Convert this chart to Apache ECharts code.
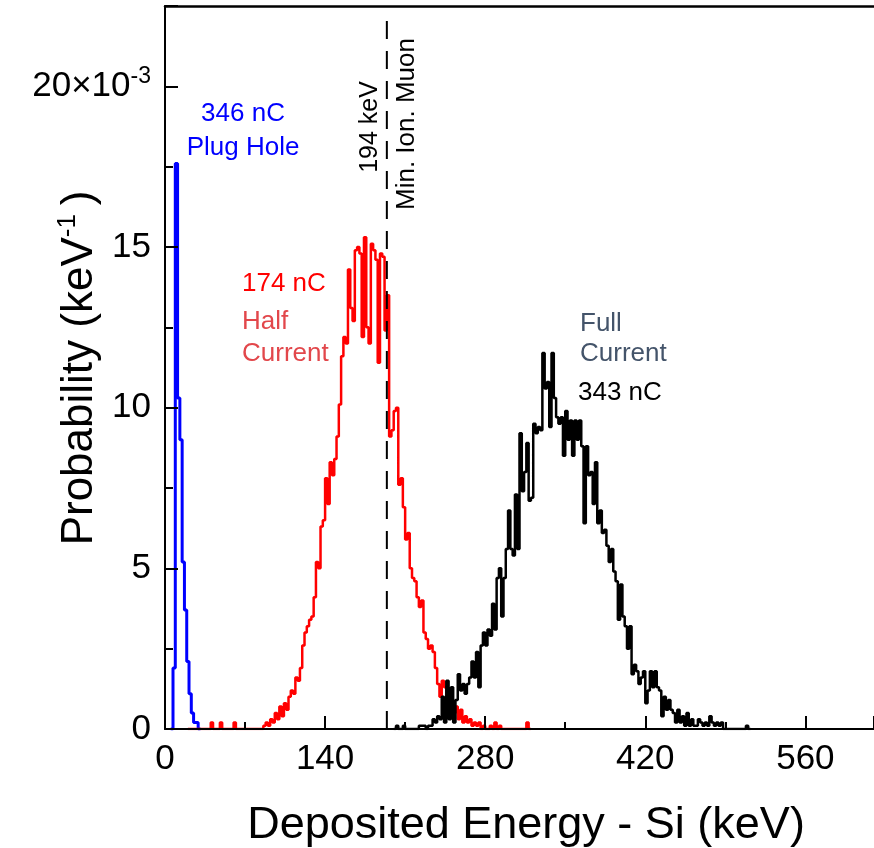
<!DOCTYPE html>
<html>
<head>
<meta charset="utf-8">
<script src="https://cdn.jsdelivr.net/npm/echarts@6/dist/echarts.min.js"></script>
<style>html,body{margin:0;padding:0;background:#fff;}#c{width:874px;height:848px;}</style>
</head>
<body>
<div id="c"></div>
<script>
// Histogram bins: 2 keV wide, values in units of 1e-3 keV^-1
var binWidth = 2;
var xTicks = [0, 140, 280, 420, 560];
var yTicks = [0, 5, 10, 15, 20];

var blueStart = 5;
var blueVals = [0, 1.9, 17.6, 10.3, 9.0, 5.2, 3.7, 2.1, 1.1, 0.5, 0.2, 0.2, 0];

var redStart = 20;
var redVals = [
  0,0,0,0,0,0,0,0,0,0,          // 20-38
  0.2,0,0,0,0.2,0,0,0,0,0,      // 40-58
  0.2,0,0,0,0,0,0,0,0,0,        // 60-78
  0,0,0,0.1,0.2,0.1,0.3,0.2,0.5,0.3, // 80-98
  0.7,0.4,0.8,0.6,1.0,1.2,1.1,1.6,1.5,1.9, // 100-118
  2.6,3.0,3.2,3.4,3.5,4.1,5.2,5.0,6.3,6.5, // 120-138
  7.8,7.0,8.3,7.9,8.4,9.1,10.1,11.6,12.2,12.0, // 140-158
  14.3,13.1,12.7,14.9,15.0,14.8,12.2,15.3,12.5,12.0, // 160-178
  15.1,14.9,14.6,11.4,14.8,14.7,12.4,13.5,9.1,9.3, // 180-198
  9.9,10.0,7.6,7.8,6.9,5.9,6.1,5.0,4.7,4.6, // 200-218
  4.1,3.8,4.0,3.0,2.8,2.5,2.6,2.4,1.9,1.4, // 220-238
  1.0,1.5,1.3,0.8,0.6,0.8,0.5,0.7,0.3,0.6, // 240-258
  0.2,0.4,0.2,0.3,0.1,0.2,0.1,0.2,0,0.1,   // 260-278
  0,0,0.1,0,0.2,0,0.1,0,0,0,               // 280-298
  0,0,0,0,0,0,0,0,0.2,0                    // 300-318
];

var blackStart = 200;
var blackVals = [
  0,0.1,0,0,0.1,0,0,0,0,0,                 // 200-218
  0,0.1,0.1,0.1,0,0.1,0.1,0.3,0.2,0.4,     // 220-238
  0.3,1.0,0.2,1.5,0.3,1.3,0.2,0.9,1.7,1.2, // 240-258
  1.4,1.1,1.4,1.6,2.1,1.6,2.4,1.3,2.6,3.0, // 260-278
  2.6,3.1,2.9,3.9,3.1,4.7,5.0,3.5,4.7,5.6, // 280-298
  6.8,5.6,5.4,7.3,5.6,9.2,7.4,8.0,8.9,7.1, // 300-318
  7.2,9.5,9.2,9.4,9.3,11.7,10.6,10.8,9.4,11.7, // 320-338
  10.3,9.7,9.5,9.7,8.5,9.9,9.0,9.6,8.5,9.6, // 340-358
  9.0,9.6,8.8,6.4,8.8,7.9,8.0,7.0,8.3,6.4, // 360-378
  6.8,6.1,6.2,5.7,5.2,5.6,4.9,4.6,3.4,4.5, // 380-398
  3.5,3.2,2.5,3.2,1.7,2.0,1.8,1.4,1.6,1.8, // 400-418
  0.8,1.2,1.8,1.3,1.8,1.3,1.2,0.4,1.0,0.6, // 420-438
  0.9,0.6,0.5,0.2,0.6,0.2,0.4,0.1,0.5,0.1, // 440-458
  0.3,0.1,0.1,0.3,0.2,0.1,0.2,0.1,0.4,0.2, // 460-478
  0.1,0.2,0.1,0.2,0,0,0,0,0,0,             // 480-498
  0,0,0,0,0.1,0                            // 500-510
];

var mipEnergy = 194;

function stepData(start, vals) {
  var d = [[start, 0]];
  for (var i = 0; i < vals.length; i++) d.push([start + i * binWidth, vals[i]]);
  d.push([start + vals.length * binWidth, 0]);
  return d;
}

var FONT = "'Liberation Sans', Arial, sans-serif";
var chart = echarts.init(document.getElementById('c'), null, {renderer: 'canvas'});

var option = {
  animation: false,
  backgroundColor: '#fff',
  grid: {left: 165, right: 0, top: 6, bottom: 119, containLabel: false},
  xAxis: [{
    type: 'value', min: 0, max: 620, interval: 140, position: 'bottom', z: 10,
    axisLine: {show: true, onZero: false, lineStyle: {color: '#000', width: 2}},
    axisTick: {show: true, inside: true, length: 13, lineStyle: {color: '#000', width: 2}},
    minorTick: {show: true, splitNumber: 2, length: 7, lineStyle: {color: '#000', width: 2}},
    axisLabel: {fontSize: 35, color: '#000', fontFamily: FONT, margin: 13, showMaxLabel: false,
      formatter: function (v) { return xTicks.indexOf(v) >= 0 ? String(v) : ''; }},
    splitLine: {show: false}, minorSplitLine: {show: false}
  }, {
    type: 'value', min: 0, max: 620, position: 'top', z: 10,
    axisLine: {show: true, onZero: false, lineStyle: {color: '#000', width: 2.5}},
    axisTick: {show: false}, axisLabel: {show: false}, splitLine: {show: false}
  }],
  yAxis: {
    type: 'value', min: 0, max: 22.5, interval: 5, z: 10,
    axisLine: {show: true, onZero: false, lineStyle: {color: '#000', width: 2}},
    axisTick: {show: true, inside: true, length: 13, lineStyle: {color: '#000', width: 2}},
    minorTick: {show: true, splitNumber: 2, length: 8, lineStyle: {color: '#000', width: 2}},
    axisLabel: {fontSize: 35, color: '#000', fontFamily: FONT, margin: 14, showMaxLabel: false,
      formatter: function (v) {
        if (yTicks.indexOf(v) < 0) return '';
        return v === 20 ? '20×10{sup|-3}' : String(v);
      },
      rich: {sup: {fontSize: 23, fontFamily: FONT, color: '#000', verticalAlign: 'top', lineHeight: 43, padding: [0, 0, 13, 0]}}
    },
    splitLine: {show: false}, minorSplitLine: {show: false}
  },
  series: [
    {type: 'line', name: 'Plug Hole', data: stepData(blueStart, blueVals), step: 'end', symbol: 'none',
      lineStyle: {color: '#0000ff', width: 3}, itemStyle: {color: '#0000ff'}, z: 3},
    {type: 'line', name: 'Half Current', data: stepData(redStart, redVals), step: 'end', symbol: 'none',
      lineStyle: {color: '#ff0000', width: 2.5}, itemStyle: {color: '#ff0000'}, z: 3},
    {type: 'line', name: 'Full Current', data: stepData(blackStart, blackVals), step: 'end', symbol: 'none',
      lineStyle: {color: '#000000', width: 2.5}, itemStyle: {color: '#000'}, z: 3},
    {type: 'line', name: 'MIP', data: [[mipEnergy, 0], [mipEnergy, 22.2]], symbol: 'none',
      lineStyle: {color: '#000', width: 2, type: [18, 12]}, z: 4}
  ],
  graphic: [
    {type: 'text', x: 243, y: 114, style: {text: '346 nC', fill: '#0000ff', font: '26px ' + FONT, textAlign: 'center', textVerticalAlign: 'middle'}},
    {type: 'text', x: 243, y: 148, style: {text: 'Plug Hole', fill: '#0000ff', font: '26px ' + FONT, textAlign: 'center', textVerticalAlign: 'middle'}},
    {type: 'text', x: 242, y: 284, style: {text: '174 nC', fill: '#ff0000', font: '26px ' + FONT, textAlign: 'left', textVerticalAlign: 'middle'}},
    {type: 'text', x: 242, y: 322, style: {text: 'Half', fill: '#e2474b', font: '26px ' + FONT, textAlign: 'left', textVerticalAlign: 'middle'}},
    {type: 'text', x: 242, y: 354, style: {text: 'Current', fill: '#e2474b', font: '26px ' + FONT, textAlign: 'left', textVerticalAlign: 'middle'}},
    {type: 'text', x: 580, y: 324, style: {text: 'Full', fill: '#44546a', font: '26px ' + FONT, textAlign: 'left', textVerticalAlign: 'middle'}},
    {type: 'text', x: 580, y: 354, style: {text: 'Current', fill: '#44546a', font: '26px ' + FONT, textAlign: 'left', textVerticalAlign: 'middle'}},
    {type: 'text', x: 578, y: 393, style: {text: '343 nC', fill: '#000', font: '26px ' + FONT, textAlign: 'left', textVerticalAlign: 'middle'}},
    {type: 'text', x: 370, y: 127, rotation: Math.PI / 2, style: {text: '194 keV', fill: '#000', font: '25px ' + FONT, textAlign: 'center', textVerticalAlign: 'middle'}},
    {type: 'text', x: 407, y: 124, rotation: Math.PI / 2, style: {text: 'Min. Ion. Muon', fill: '#000', font: '26px ' + FONT, textAlign: 'center', textVerticalAlign: 'middle'}},
    {type: 'text', x: 526, y: 826, style: {text: 'Deposited Energy - Si (keV)', fill: '#000', font: '45px ' + FONT, textAlign: 'center', textVerticalAlign: 'middle'}},
    {type: 'text', x: 80, y: 368, rotation: Math.PI / 2, style: {
      text: 'Probability (keV{sup|-1}\u2009)', fill: '#000', font: '44px ' + FONT, textAlign: 'center', textVerticalAlign: 'middle',
      rich: {sup: {fontSize: 26, fontFamily: FONT, fill: '#000', verticalAlign: 'top', lineHeight: 50, padding: [0, 0, 18, 0]}}
    }}
  ]
};
chart.setOption(option);
</script>
</body>
</html>
